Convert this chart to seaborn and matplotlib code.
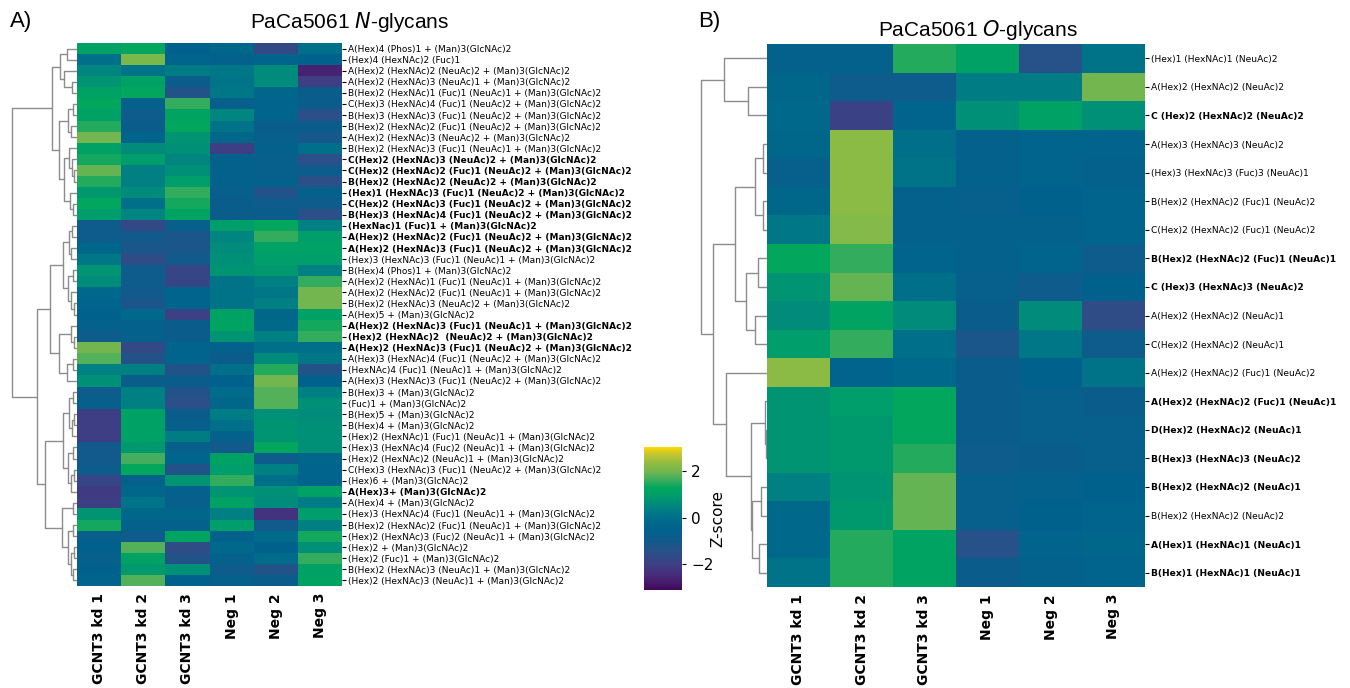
import matplotlib
matplotlib.use("Agg")
import matplotlib.pyplot as plt
import seaborn as sns
import numpy as np
import pandas as pd
from matplotlib.colors import LinearSegmentedColormap

# samples (columns of both heatmaps)
samples = ["GCNT3 kd 1", "GCNT3 kd 2", "GCNT3 kd 3", "Neg 1", "Neg 2", "Neg 3"]

# ---------- N-glycans ----------
n_labels = [
    "A(Hex)4 (Phos)1 + (Man)3(GlcNAc)2",
    "(Hex)4 (HexNAc)2 (Fuc)1",
    "A(Hex)2 (HexNAc)2 (NeuAc)2 + (Man)3(GlcNAc)2",
    "A(Hex)2 (HexNAc)3 (NeuAc)1 + (Man)3(GlcNAc)2",
    "B(Hex)2 (HexNAc)1 (Fuc)1 (NeuAc)1 + (Man)3(GlcNAc)2",
    "C(Hex)3 (HexNAc)4 (Fuc)1 (NeuAc)2 + (Man)3(GlcNAc)2",
    "B(Hex)3 (HexNAc)3 (Fuc)1 (NeuAc)2 + (Man)3(GlcNAc)2",
    "B(Hex)2 (HexNAc)2 (Fuc)1 (NeuAc)2 + (Man)3(GlcNAc)2",
    "A(Hex)2 (HexNAc)3 (NeuAc)2 + (Man)3(GlcNAc)2",
    "B(Hex)2 (HexNAc)3 (Fuc)1 (NeuAc)1 + (Man)3(GlcNAc)2",
    "C(Hex)2 (HexNAc)3 (NeuAc)2 + (Man)3(GlcNAc)2",
    "C(Hex)2 (HexNAc)2 (Fuc)1 (NeuAc)2 + (Man)3(GlcNAc)2",
    "B(Hex)2 (HexNAc)2 (NeuAc)2 + (Man)3(GlcNAc)2",
    "(Hex)1 (HexNAc)3 (Fuc)1 (NeuAc)2 + (Man)3(GlcNAc)2",
    "C(Hex)2 (HexNAc)3 (Fuc)1 (NeuAc)2 + (Man)3(GlcNAc)2",
    "B(Hex)3 (HexNAc)4 (Fuc)1 (NeuAc)2 + (Man)3(GlcNAc)2",
    "(HexNac)1 (Fuc)1 + (Man)3(GlcNAc)2",
    "A(Hex)2 (HexNAc)2 (Fuc)1 (NeuAc)2 + (Man)3(GlcNAc)2",
    "A(Hex)2 (HexNAc)3 (Fuc)1 (NeuAc)2 + (Man)3(GlcNAc)2",
    "(Hex)3 (HexNAc)3 (Fuc)1 (NeuAc)1 + (Man)3(GlcNAc)2",
    "B(Hex)4 (Phos)1 + (Man)3(GlcNAc)2",
    "A(Hex)2 (HexNAc)1 (Fuc)1 (NeuAc)1 + (Man)3(GlcNAc)2",
    "A(Hex)2 (HexNAc)2 (Fuc)1 (NeuAc)1 + (Man)3(GlcNAc)2",
    "B(Hex)2 (HexNAc)3 (NeuAc)2 + (Man)3(GlcNAc)2",
    "A(Hex)5 + (Man)3(GlcNAc)2",
    "A(Hex)2 (HexNAc)3 (Fuc)1 (NeuAc)1 + (Man)3(GlcNAc)2",
    "(Hex)2 (HexNAc)2  (NeuAc)2 + (Man)3(GlcNAc)2",
    "A(Hex)2 (HexNAc)3 (Fuc)1 (NeuAc)2 + (Man)3(GlcNAc)2",
    "A(Hex)3 (HexNAc)4 (Fuc)1 (NeuAc)2 + (Man)3(GlcNAc)2",
    "(HexNAc)4 (Fuc)1 (NeuAc)1 + (Man)3(GlcNAc)2",
    "A(Hex)3 (HexNAc)3 (Fuc)1 (NeuAc)2 + (Man)3(GlcNAc)2",
    "B(Hex)3 + (Man)3(GlcNAc)2",
    "(Fuc)1 + (Man)3(GlcNAc)2",
    "B(Hex)5 + (Man)3(GlcNAc)2",
    "B(Hex)4 + (Man)3(GlcNAc)2",
    "(Hex)2 (HexNAc)1 (Fuc)1 (NeuAc)1 + (Man)3(GlcNAc)2",
    "(Hex)3 (HexNAc)4 (Fuc)2 (NeuAc)1 + (Man)3(GlcNAc)2",
    "(Hex)2 (HexNAc)2 (NeuAc)1 + (Man)3(GlcNAc)2",
    "C(Hex)3 (HexNAc)3 (Fuc)1 (NeuAc)2 + (Man)3(GlcNAc)2",
    "(Hex)6 + (Man)3(GlcNAc)2",
    "A(Hex)3+ (Man)3(GlcNAc)2",
    "A(Hex)4 + (Man)3(GlcNAc)2",
    "(Hex)3 (HexNAc)4 (Fuc)1 (NeuAc)1 + (Man)3(GlcNAc)2",
    "B(Hex)2 (HexNAc)2 (Fuc)1 (NeuAc)1 + (Man)3(GlcNAc)2",
    "(Hex)2 (HexNAc)3 (Fuc)2 (NeuAc)1 + (Man)3(GlcNAc)2",
    "(Hex)2 + (Man)3(GlcNAc)2",
    "(Hex)2 (Fuc)1 + (Man)3(GlcNAc)2",
    "B(Hex)2 (HexNAc)3 (NeuAc)1 + (Man)3(GlcNAc)2",
    "(Hex)2 (HexNAc)3 (NeuAc)1 + (Man)3(GlcNAc)2",
]
n_bold = [10, 11, 12, 13, 14, 15, 16, 17, 18, 25, 26, 27, 40]

n_values = [
    [1.1, 1.3, -0.5, -0.3, -1.7, 0.0],
    [0.0, 2.1, -0.4, -0.6, -0.4, -0.5],
    [0.5, 0.1, 0.3, 0.2, 0.6, -2.6],
    [0.8, 1.1, -0.8, 0.1, 0.6, -2.0],
    [1.1, 1.3, -1.3, 0.2, -0.3, -0.8],
    [1.3, -0.6, 1.6, -0.7, -0.4, -0.8],
    [1.1, -0.9, 1.2, 0.5, -0.4, -1.5],
    [1.5, -0.8, 1.3, 0.1, -0.8, -0.8],
    [2.0, -0.4, 0.8, -0.3, -0.7, -1.1],
    [1.1, 0.6, 0.7, -2.0, -0.6, 0.0],
    [1.4, 1.0, 0.5, -0.6, -0.7, -1.5],
    [1.9, 0.4, 0.7, -0.6, -0.7, -0.9],
    [1.5, 0.4, 1.0, -0.6, -0.6, -1.5],
    [0.9, 0.6, 1.6, -0.7, -1.3, -0.6],
    [1.3, 0.0, 1.4, -0.8, -0.9, -0.9],
    [1.0, 0.5, 1.2, -0.8, -0.8, -1.5],
    [-0.9, -1.7, -0.7, 1.0, 1.3, 0.4],
    [-0.9, -1.0, -1.2, 0.5, 1.6, 1.0],
    [-0.3, -1.2, -1.2, 0.6, 1.1, 1.1],
    [0.2, -1.6, -1.0, 0.7, 1.0, 1.0],
    [0.8, -0.9, -1.8, 0.8, 0.9, 0.4],
    [0.6, -0.9, -1.8, 0.1, 0.4, 1.6],
    [-0.2, -1.0, -0.4, 0.1, 0.2, 2.0],
    [-0.4, -1.2, -0.4, 0.1, 0.4, 2.0],
    [-0.5, -0.2, -1.9, 1.1, -0.3, 1.1],
    [-0.6, -0.6, -0.8, 1.2, -0.2, 1.4],
    [-0.9, -0.6, -0.8, 0.8, 0.4, 1.6],
    [2.0, -1.7, -0.4, -0.6, 0.0, 0.0],
    [1.8, -1.3, -0.4, -0.8, 0.6, 0.2],
    [0.4, 0.4, -1.3, 0.0, 1.5, -1.3],
    [0.7, -0.8, -0.8, -0.5, 2.0, -0.5],
    [-0.9, 0.4, -1.3, -0.1, 1.8, 0.4],
    [-0.7, 0.4, -1.5, -0.3, 1.8, 0.7],
    [-2.0, 1.1, -0.8, 0.3, 0.7, 0.6],
    [-2.0, 1.1, -0.7, 0.0, 0.8, 0.7],
    [-2.0, 1.1, 0.3, -0.6, 0.8, 0.7],
    [-1.0, 0.9, -0.7, -1.0, 1.3, 0.7],
    [-1.0, 1.7, -0.4, 1.1, -0.9, -0.3],
    [-0.9, 1.3, -1.3, 1.0, 0.4, -0.4],
    [-1.8, -0.6, 0.8, 1.6, 0.0, -0.4],
    [-2.1, -0.3, -0.6, 0.8, 0.7, 1.1],
    [-2.0, 0.1, -0.7, 1.1, 0.6, 0.3],
    [0.8, -0.3, -0.3, 0.4, -2.3, 1.0],
    [1.4, -0.6, -0.6, 1.0, -1.0, 0.4],
    [-0.7, -0.9, 1.2, -0.6, -0.1, 1.4],
    [-0.5, 1.8, -1.6, -0.2, -0.5, 0.7],
    [-0.7, 1.1, -1.3, -0.6, -0.1, 1.6],
    [-0.5, 0.9, 0.7, -0.9, -1.3, 1.1],
    [-0.4, 1.8, -0.5, -0.6, -0.8, 1.2],
]

# row dendrogram: [left, right, merge height]
n_tree = [
    [
        [[0, 1, 10], [2, [3, 4, 5], 13], 17],
        [[[5, 6, 4], [7, 8, 6], 9],
         [[9, [10, [11, 12, 3], 5], 8], [13, [14, 15, 4], 7], 13], 18],
        25,
    ],
    [
        [[[[16, 17, 5], [18, 19, 6], 8], [[20, 21, 4], [22, [23, 24, 3], 6], 9], 14],
         [[25, [26, 27, 3], 6], [[28, 29, 4], 30, 10], 18], 27],
        [[[[31, 32, 4], [[33, 34, 3], 35, 5], 8], [[36, 37, 4], [[38, 39, 3], 40, 6], 9], 14],
         [[41, 42, 4], [[43, 44, 4], [[45, 46, 3], [47, 48, 4], 6], 9], 15], 32],
        40,
    ],
    65,
]

# ---------- O-glycans ----------
o_labels = [
    "(Hex)1 (HexNAc)1 (NeuAc)2",
    "A(Hex)2 (HexNAc)2 (NeuAc)2",
    "C (Hex)2 (HexNAc)2 (NeuAc)2",
    "A(Hex)3 (HexNAc)3 (NeuAc)2",
    "(Hex)3 (HexNAc)3 (Fuc)3 (NeuAc)1",
    "B(Hex)2 (HexNAc)2 (Fuc)1 (NeuAc)2",
    "C(Hex)2 (HexNAc)2 (Fuc)1 (NeuAc)2",
    "B(Hex)2 (HexNAc)2 (Fuc)1 (NeuAc)1",
    "C (Hex)3 (HexNAc)3 (NeuAc)2",
    "A(Hex)2 (HexNAc)2 (NeuAc)1",
    "C(Hex)2 (HexNAc)2 (NeuAc)1",
    "A(Hex)2 (HexNAc)2 (Fuc)1 (NeuAc)2",
    "A(Hex)2 (HexNAc)2 (Fuc)1 (NeuAc)1",
    "D(Hex)2 (HexNAc)2 (NeuAc)1",
    "B(Hex)3 (HexNAc)3 (NeuAc)2",
    "B(Hex)2 (HexNAc)2 (NeuAc)1",
    "B(Hex)2 (HexNAc)2 (NeuAc)2",
    "A(Hex)1 (HexNAc)1 (NeuAc)1",
    "B(Hex)1 (HexNAc)1 (NeuAc)1",
]
o_bold = [2, 7, 8, 12, 13, 14, 15, 17, 18]

o_values = [
    [-0.6, -0.6, 1.5, 1.1, -1.4, 0.1],
    [-0.3, -0.9, -0.9, 0.3, 0.3, 2.0],
    [-0.2, -1.9, -0.4, 0.7, 1.1, 0.7],
    [-0.3, 2.3, 0.0, -0.6, -0.4, -0.4],
    [-0.7, 2.3, 0.1, -0.6, -0.4, -0.6],
    [-0.3, 2.3, -0.6, -0.7, -0.5, -0.4],
    [0.2, 2.2, -0.6, -0.6, -0.6, -0.4],
    [1.3, 1.6, -0.4, -0.6, -0.4, -0.9],
    [0.8, 1.9, 0.0, -0.7, -0.9, -0.5],
    [0.6, 1.2, 0.6, -0.8, 0.6, -1.6],
    [1.0, 1.6, 0.0, -1.2, 0.2, -0.9],
    [2.3, -0.4, -0.2, -0.8, -0.5, 0.1],
    [0.8, 1.0, 1.3, -0.8, -0.7, -0.8],
    [0.8, 0.9, 1.3, -0.8, -0.7, -0.7],
    [0.8, 0.9, 1.5, -0.9, -0.8, -0.7],
    [0.4, 0.8, 1.9, -0.7, -0.6, -0.5],
    [-0.2, 0.9, 1.9, -0.7, -0.5, -0.4],
    [-0.2, 1.5, 1.2, -1.4, -0.4, -0.3],
    [0.1, 1.5, 1.2, -0.8, -0.6, -0.4],
]

o_tree = [
    [0, [1, 2, 19], 43],
    [
        [[[3, 4, 4], [5, 6, 4], 12], [[7, 8, 9], [9, 10, 12], 21], 32],
        [11, [[12, [13, 14, 1], 2], [[15, 16, 6], [17, 18, 8], 15], 16], 41],
        54,
    ],
    66,
]

# colour scale of the colorbar
vmin, vmax = -3.1, 3.05
cmap_stops = [
    (-3.1, "#44085a"), (-2.5, "#472a78"), (-2.0, "#3d3f84"), (-1.5, "#2b4f88"),
    (-1.0, "#115a8b"), (-0.5, "#00628c"), (0.0, "#006e8a"), (0.5, "#008580"),
    (1.0, "#009e6a"), (1.3, "#00a65c"), (1.7, "#45ae5e"), (2.0, "#72b650"),
    (2.4, "#94bd42"), (2.8, "#cdc82c"), (3.05, "#fdd800"),
]
cmap = LinearSegmentedColormap.from_list(
    "zs", [((v - vmin) / (vmax - vmin), c) for v, c in cmap_stops])

sns.set_style("white")
plt.rcParams["font.family"] = ["DejaVu Sans"]
plt.rcParams.update({"text.color": "black", "axes.labelcolor": "black",
                     "xtick.color": "black", "ytick.color": "black"})


def draw_tree(ax, node):
    if isinstance(node, int):
        return node + 0.5, 0.0
    left, right, h = node
    y1, h1 = draw_tree(ax, left)
    y2, h2 = draw_tree(ax, right)
    ax.plot([h1, h, h, h2], [y1, y1, y2, y2], color="#8c8c8c", lw=1.0)
    return (y1 + y2) / 2, h


def panel(hm_box, dg_box, values, labels, bold, tree, hmax, fsize, cax=None):
    x0, y0, x1, y1 = hm_box
    ax = fig.add_axes([x0 / W, 1 - y1 / H, (x1 - x0) / W, (y1 - y0) / H])
    df = pd.DataFrame(values, index=labels, columns=samples)
    sns.heatmap(df, ax=ax, cmap=cmap, vmin=vmin, vmax=vmax,
                cbar=cax is not None, cbar_ax=cax,
                xticklabels=True, yticklabels=True)
    ax.yaxis.tick_right()
    ax.set_yticklabels(labels, rotation=0, fontsize=fsize)
    for i, t in enumerate(ax.get_yticklabels()):
        if i in bold:
            t.set_fontweight("bold")
    ax.set_xticklabels(samples, rotation=90, fontsize=10, fontweight="bold")
    ax.tick_params(axis="y", length=3, width=0.8, pad=1, right=True, left=False)
    ax.tick_params(axis="x", length=3, width=0.8, pad=2)
    ax.set_xlabel("")
    ax.set_ylabel("")

    dx0, dx1 = dg_box
    dax = fig.add_axes([dx0 / W, 1 - y1 / H, (dx1 - dx0) / W, (y1 - y0) / H])
    draw_tree(dax, tree)
    dax.set_ylim(len(labels), 0)
    dax.set_xlim(hmax, 0)
    dax.axis("off")
    return ax


W, H = 1350, 688
fig = plt.figure(figsize=(13.5, 6.88), dpi=100)

cax = fig.add_axes([644 / W, 1 - 590 / H, 38 / W, 143 / H])
panel((77, 43, 342, 586), (10, 77), n_values, n_labels, n_bold, n_tree, 67, 6.5, cax=cax)
cax.tick_params(labelsize=11, length=3)
cax.set_yticks([-2, 0, 2])
cax.set_ylabel("Z-score", fontsize=11, labelpad=-2)

panel((767, 44, 1145, 587), (698, 767), o_values, o_labels, o_bold, o_tree, 69, 6.6)

title_font = ["Liberation Sans", "DejaVu Sans"]
fig.text(349 / W, 1 - 22 / H, r"PaCa5061 $\mathit{N}$-glycans", ha="center", va="center",
         fontsize=15, family=title_font)
fig.text(978 / W, 1 - 30 / H, r"PaCa5061 $\mathit{O}$-glycans", ha="center", va="center",
         fontsize=15, family=title_font)
fig.text(10 / W, 1 - 22 / H, "A)", ha="left", va="center", fontsize=16, family=title_font)
fig.text(698 / W, 1 - 22 / H, "B)", ha="left", va="center", fontsize=16, family=title_font)

fig.savefig("out.png", dpi=100)
